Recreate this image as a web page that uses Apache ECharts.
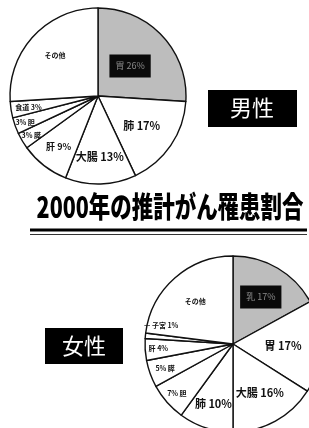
<!DOCTYPE html>
<html lang="ja">
<head>
<meta charset="UTF-8">
<title>2000年の推計がん罹患割合</title>
<style>
    html, body { margin: 0; padding: 0; background: #fff; }
    #echart { width: 309px; height: 428px; }
</style>
</head>
<body>

<div id="echart"></div>

<script src="https://cdn.jsdelivr.net/npm/echarts@6/dist/echarts.min.js"></script>
<script>
    const maleNames = ["胃", "肺", "大腸", "肝", "膵", "胆", "食道", "その他"];
    const maleValues = [26, 17, 13, 9, 3, 3, 3, 26];
    const femaleNames = ["乳", "胃", "大腸", "肺", "胆", "膵", "肝", "子宮", "その他"];
    const femaleValues = [17, 17, 16, 10, 7, 5, 4, 1, 23];

    // how far out (fraction of radius) each label sits
    const maleLabelR = [0.5, 0.6, 0.69, 0.73, 0.88, 0.88, 0.8, 0.67];
    const femaleLabelR = [0.62, 0.57, 0.63, 0.72, 0.85, 0.82, 0.85, 0.82, 0.65];

    const R = 88;
    const maleCenter = [98, 96];
    const femaleCenter = [233, 344];

    const myChart = echarts.init(document.getElementById("echart"));

    function fmt(name, value) {
        if (name === "その他") return name;
        if (name === "膵" || name === "胆") return value + "% " + name;
        return name + " " + value + "%";
    }

    function buildData(names, values, small) {
        return names.map((n, i) => {
            const item = { name: n, value: values[i] };
            const size = small.includes(n) ? 7 : (values[i] >= 10 ? 11 : 9);
            item.label = { fontSize: n === "その他" ? 7 : size };
            if (i === 0) {
                item.itemStyle = { color: "#bdbdbd" };
                item.label = {
                    fontSize: 9,
                    color: "#8a8a8a",
                    fontWeight: "normal",
                    backgroundColor: "#0a0a0a",
                    padding: [7, 6]
                };
            }
            if (n === "子宮") {
                item.label.formatter = "— 子宮 1%";
            }
            return item;
        });
    }

    function radialLayout(center, factors, labelsUp) {
        return function (params) {
            const r = params.labelRect;
            const lx = r.x + r.width / 2;
            const ly = r.y + r.height / 2;
            const vx = lx - center[0];
            const vy = ly - center[1];
            const d = Math.sqrt(vx * vx + vy * vy) || 1;
            const want = factors[params.dataIndex] * R;
            const out = { dx: vx / d * (want - d), dy: vy / d * (want - d) };
            if (labelsUp && labelsUp[params.dataIndex]) out.dy -= labelsUp[params.dataIndex];
            return out;
        };
    }

    function pieSeries(center, names, values, small, factors, up) {
        return {
            type: "pie",
            center: center,
            radius: R,
            startAngle: 90,
            clockwise: true,
            silent: true,
            avoidLabelOverlap: false,
            itemStyle: { color: "#fff", borderColor: "#111", borderWidth: 1.4 },
            label: {
                show: true,
                position: "inside",
                color: "#111",
                fontWeight: "bold",
                fontFamily: "Noto Sans CJK JP",
                formatter: (p) => fmt(p.name, p.value)
            },
            labelLine: { show: false },
            labelLayout: radialLayout(center, factors, up),
            data: buildData(names, values, small)
        };
    }

    const option = {
        animation: false,
        backgroundColor: "#fff",
        series: [
            pieSeries(maleCenter, maleNames, maleValues, ["膵", "胆", "食道"], maleLabelR),
            pieSeries(femaleCenter, femaleNames, femaleValues, ["胆", "膵", "肝", "子宮"], femaleLabelR,
                [0, 0, 0, 0, 0, 0, 0, 12, 0])
        ],
        graphic: [
            {
                type: "text",
                x: 170, y: 192,
                scaleX: 0.74,
                style: {
                    text: "2000年の推計がん罹患割合",
                    font: "900 29px 'Noto Sans CJK JP'",
                    fill: "#000",
                    textAlign: "center",
                    textVerticalAlign: "top"
                }
            },
            { type: "rect", shape: { x: 30, y: 228.5, width: 277, height: 3 }, style: { fill: "#000" } },
            { type: "rect", shape: { x: 30, y: 234, width: 277, height: 1 }, style: { fill: "#333" } },
            { type: "rect", shape: { x: 208, y: 90, width: 89, height: 37 }, style: { fill: "#000" } },
            {
                type: "text", x: 252, y: 108,
                style: { text: "男性", font: "22px 'Noto Sans CJK JP'", fill: "#fff", textAlign: "center", textVerticalAlign: "middle" }
            },
            { type: "rect", shape: { x: 45, y: 328, width: 78, height: 36 }, style: { fill: "#000" } },
            {
                type: "text", x: 84, y: 346,
                style: { text: "女性", font: "22px 'Noto Sans CJK JP'", fill: "#fff", textAlign: "center", textVerticalAlign: "middle" }
            }
        ]
    };

    myChart.setOption(option);
</script>

</body>
</html>
